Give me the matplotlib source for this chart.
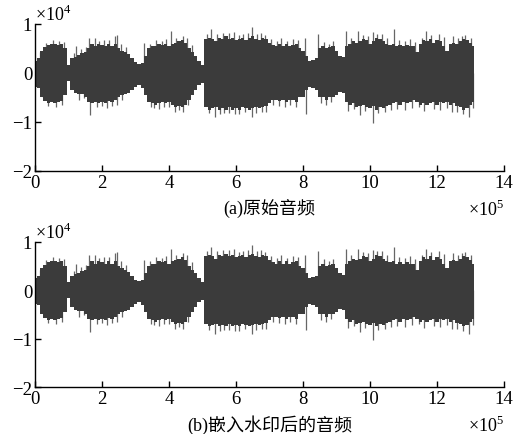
import numpy as np
import matplotlib.pyplot as plt

plt.rcParams['font.family'] = ['Liberation Serif', 'Noto Sans CJK SC']
plt.rcParams['mathtext.fontset'] = 'custom'
plt.rcParams['mathtext.rm'] = 'Liberation Serif'

# envelope of the waveform, sampled every 0.1e5 samples (x in 1e5, amplitude in 1e4)
env_x = np.round(np.arange(0, 13.15, 0.1), 1)
env_upper = [
    0.25, 0.30, 0.45, 0.52, 0.58, 0.60, 0.60, 0.58, 0.60, 0.50,
    0.17, 0.30, 0.33, 0.36, 0.40, 0.42, 0.50, 0.60, 0.55, 0.60,
    0.58, 0.55, 0.60, 0.55, 0.60, 0.50, 0.45, 0.42, 0.38, 0.30,
    0.22, 0.18, 0.20, 0.35, 0.50, 0.55, 0.55, 0.60, 0.58, 0.60,
    0.55, 0.60, 0.62, 0.65, 0.68, 0.62, 0.50, 0.42, 0.35, 0.25,
    0.17, 0.70, 0.72, 0.70, 0.65, 0.72, 0.70, 0.75, 0.70, 0.72,
    0.68, 0.70, 0.72, 0.68, 0.72, 0.75, 0.70, 0.68, 0.72, 0.70,
    0.62, 0.58, 0.55, 0.60, 0.55, 0.60, 0.55, 0.58, 0.60, 0.50,
    0.45, 0.35, 0.25, 0.27, 0.30, 0.50, 0.55, 0.50, 0.52, 0.55,
    0.45, 0.35, 0.32, 0.55, 0.60, 0.65, 0.62, 0.65, 0.70, 0.68,
    0.60, 0.65, 0.72, 0.70, 0.65, 0.60, 0.58, 0.60, 0.55, 0.58,
    0.55, 0.58, 0.55, 0.55, 0.42, 0.60, 0.68, 0.65, 0.70, 0.62,
    0.68, 0.65, 0.55, 0.45, 0.60, 0.62, 0.60, 0.65, 0.70, 0.68,
    0.62, 0.55,
]
env_lower = [
    0.28, 0.30, 0.50, 0.58, 0.62, 0.60, 0.62, 0.60, 0.58, 0.45,
    0.17, 0.35, 0.40, 0.42, 0.42, 0.50, 0.60, 0.62, 0.60, 0.62,
    0.60, 0.62, 0.58, 0.60, 0.55, 0.50, 0.45, 0.42, 0.40, 0.35,
    0.28, 0.25, 0.30, 0.45, 0.60, 0.62, 0.65, 0.62, 0.60, 0.62,
    0.60, 0.65, 0.70, 0.68, 0.70, 0.65, 0.55, 0.45, 0.35, 0.25,
    0.20, 0.70, 0.75, 0.72, 0.70, 0.75, 0.72, 0.75, 0.70, 0.75,
    0.72, 0.75, 0.70, 0.72, 0.75, 0.72, 0.70, 0.72, 0.70, 0.68,
    0.62, 0.55, 0.55, 0.58, 0.55, 0.60, 0.55, 0.55, 0.60, 0.50,
    0.50, 0.35, 0.28, 0.30, 0.35, 0.50, 0.50, 0.55, 0.50, 0.50,
    0.45, 0.38, 0.40, 0.60, 0.65, 0.62, 0.70, 0.68, 0.65, 0.70,
    0.72, 0.68, 0.75, 0.70, 0.72, 0.68, 0.65, 0.62, 0.60, 0.65,
    0.60, 0.62, 0.60, 0.55, 0.60, 0.65, 0.62, 0.65, 0.62, 0.60,
    0.65, 0.60, 0.62, 0.60, 0.65, 0.62, 0.68, 0.70, 0.75, 0.72,
    0.65, 0.60,
]

# peaks sticking out of the envelope
spike_up_x = [0.15, 0.32, 0.55, 0.72, 0.86, 1.15, 1.22, 1.38, 1.52, 1.62, 1.78, 1.92,
              2.05, 2.22, 2.38, 2.44, 2.58, 2.72, 3.24, 3.42, 3.62, 3.78, 3.92, 4.07,
              4.22, 4.42, 4.55, 4.68, 5.12, 5.26, 5.42, 5.6, 5.78, 5.95, 6.08, 6.2,
              6.35, 6.48, 6.62, 6.75, 6.88, 7.05, 7.22, 7.35, 7.52, 7.7, 7.85, 8.05,
              8.45, 8.62, 8.78, 8.9, 9.27, 9.42, 9.64, 9.8, 9.95, 10.08, 10.22, 10.35,
              10.52, 10.72, 10.88, 11.05, 11.2, 11.35, 11.55, 11.67, 11.82, 12.05, 12.2,
              12.47, 12.62, 12.75, 12.85, 13.0]
spike_up_y = [0.42, 0.62, 0.68, 0.66, 0.64, 0.40, 0.55, 0.48, 0.52, 0.72, 0.72, 0.66,
              0.68, 0.68, 0.76, 0.78, 0.60, 0.52, 0.62, 0.60, 0.68, 0.66, 0.70, 0.86,
              0.72, 0.76, 0.72, 0.58, 0.80, 0.90, 0.80, 0.82, 0.82, 0.84, 0.78, 0.80,
              0.82, 0.93, 0.80, 0.82, 0.78, 0.70, 0.66, 0.72, 0.66, 0.70, 0.68, 0.72,
              0.80, 0.64, 0.60, 0.65, 0.86, 0.72, 0.86, 0.78, 0.76, 0.83, 0.80, 0.80,
              0.72, 0.90, 0.68, 0.66, 0.70, 0.64, 0.72, 0.86, 0.78, 0.80, 0.74,
              0.76, 0.72, 0.76, 0.78, 0.72]
spike_dn_x = [0.25, 0.4, 0.62, 0.8, 1.3, 1.45, 1.63, 1.85, 2.0, 2.15, 2.3, 2.45,
              2.6, 3.45, 3.55, 3.7, 3.85, 4.0, 4.18, 4.3, 4.42, 4.58, 5.18, 5.36,
              5.52, 5.65, 5.8, 5.98, 6.1, 6.28, 6.48, 6.6, 6.78, 6.9, 7.1, 7.28,
              7.45, 7.62, 7.8, 8.08, 8.55, 8.7, 8.85, 9.35, 9.52, 9.69, 9.85, 10.08,
              10.25, 10.45, 10.62, 10.8, 11.05, 11.25, 11.45, 11.6, 11.9, 12.1, 12.3,
              12.45, 12.6, 12.78, 12.94, 13.08]
spike_dn_y = [0.48, 0.68, 0.70, 0.66, 0.55, 0.52, 0.86, 0.70, 0.68, 0.72, 0.68, 0.66,
              0.55, 0.70, 0.72, 0.74, 0.70, 0.70, 0.80, 0.76, 0.80, 0.66, 0.82, 0.90,
              0.84, 0.82, 0.82, 0.84, 0.84, 0.80, 0.90, 0.82, 0.80, 0.80, 0.66, 0.68,
              0.70, 0.66, 0.70, 0.83, 0.62, 0.66, 0.60, 0.78, 0.74, 0.86, 0.78, 1.03,
              0.82, 0.80, 0.76, 0.74, 0.76, 0.72, 0.70, 0.78, 0.74, 0.76, 0.72,
              0.80, 0.80, 0.84, 0.90, 0.72]

captions = ['(a)原始音频', '(b)嵌入水印后的音频']
xticks = [0, 2, 4, 6, 8, 10, 12, 14]
yticks = [-2, -1, 0, 1]

fig = plt.figure(figsize=(5.27, 4.35), dpi=100)
axes = [fig.add_axes([0.0664, 0.6046, 0.890, 0.338]),
        fig.add_axes([0.0664, 0.108, 0.890, 0.334])]

# the watermarked audio is visually identical to the original
for ax, cap in zip(axes, captions):
    ax.vlines(spike_up_x, 0, spike_up_y, color='#666666', linewidth=0.9, zorder=1)
    ax.vlines(spike_dn_x, -np.array(spike_dn_y), 0, color='#666666', linewidth=0.9,
              zorder=1)
    ax.fill_between(env_x, -np.array(env_lower), env_upper, step='mid',
                    color='#3b3b3b', linewidth=0, zorder=2)

    ax.set_xlim(0, 14)
    ax.set_ylim(-2, 1)
    ax.set_xticks(xticks)
    ax.set_yticks(yticks)
    ax.spines['top'].set_visible(False)
    ax.spines['right'].set_visible(False)
    for s in ['left', 'bottom']:
        ax.spines[s].set_linewidth(1.0)
        ax.spines[s].set_zorder(3)
    ax.tick_params(direction='in', length=4, width=1.0, labelsize=13.5, pad=2)

    ax.annotate(r'$\times10^4$', xy=(0, 1), xycoords='axes fraction',
                xytext=(0, 0), textcoords='offset points', ha='left', va='bottom',
                fontsize=13)
    ax.annotate(r'$\times10^5$', xy=(1, 0), xycoords='axes fraction',
                xytext=(0, -27), textcoords='offset points', ha='right', va='center',
                fontsize=13)
    ax.annotate(cap, xy=(0.5, 0), xycoords='axes fraction',
                xytext=(0, -27), textcoords='offset points', ha='center', va='center',
                fontsize=13)

fig.savefig('out.png', dpi=100)
